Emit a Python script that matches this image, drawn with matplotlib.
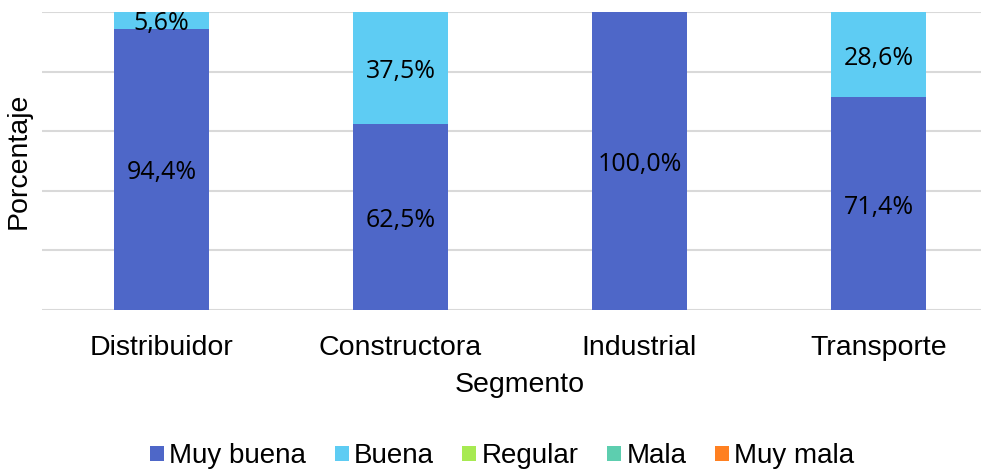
import matplotlib.pyplot as plt
import numpy as np

# datos por segmento (%)
segmentos = ["Distribuidor", "Constructora", "Industrial", "Transporte"]
categorias = ["Muy buena", "Buena", "Regular", "Mala", "Muy mala"]
muy_buena = [94.4, 62.5, 100.0, 71.4]
buena = [5.6, 37.5, 0.0, 28.6]
regular = [0.0, 0.0, 0.0, 0.0]
mala = [0.0, 0.0, 0.0, 0.0]
muy_mala = [0.0, 0.0, 0.0, 0.0]

colores = ["#4E67C8", "#5ECCF3", "#A7EA52", "#5DCEAF", "#FF8021"]

fig = plt.figure(figsize=(9.81, 4.70), dpi=100)
ax = fig.add_axes([0.0428, 0.3404, 0.9745, 0.6341])

x = np.arange(len(segmentos))
series = [muy_buena, buena, regular, mala, muy_mala]
base = np.zeros(len(segmentos))
for nombre, vals, col in zip(categorias, series, colores):
    vals = np.array(vals)
    ax.bar(x, vals, 0.40, bottom=base, color=col, label=nombre, zorder=2)
    for xi, b, v in zip(x, base, vals):
        if v > 0:
            ax.annotate(f"{v:.1f}%".replace(".", ","), (xi, b + v / 2), xytext=(0, -2.5),
                        textcoords="offset points", ha="center", va="center",
                        fontsize=18, family="Open Sans", color="#000000", zorder=3)
    base = base + vals

ax.set_xlim(-0.5, len(segmentos) - 0.5)
ax.set_ylim(0, 100)
ax.set_yticks(np.arange(0, 101, 20))
ax.set_yticklabels([])
ax.tick_params(axis="y", length=0)
ax.tick_params(axis="x", length=0, pad=18)
ax.set_xticks(x)
ax.set_xticklabels(segmentos, fontsize=20.5, family="Liberation Sans")
ax.grid(axis="y", color="#D9D9D9", linewidth=1.5, zorder=0)
for s in ax.spines.values():
    s.set_visible(False)

ax.set_xlabel("Segmento", fontsize=20.5, family="Liberation Sans", labelpad=8)
ax.set_ylabel("Porcentaje", fontsize=20.5, family="Liberation Sans", labelpad=4)

fig.legend(loc="center", bbox_to_anchor=(0.512, 0.029), ncol=5, frameon=False,
           prop={"family": "Liberation Sans", "size": 20}, handlelength=0.5, handleheight=0.5,
           handletextpad=0.2, columnspacing=1.02)

fig.savefig("out.png", dpi=100)
